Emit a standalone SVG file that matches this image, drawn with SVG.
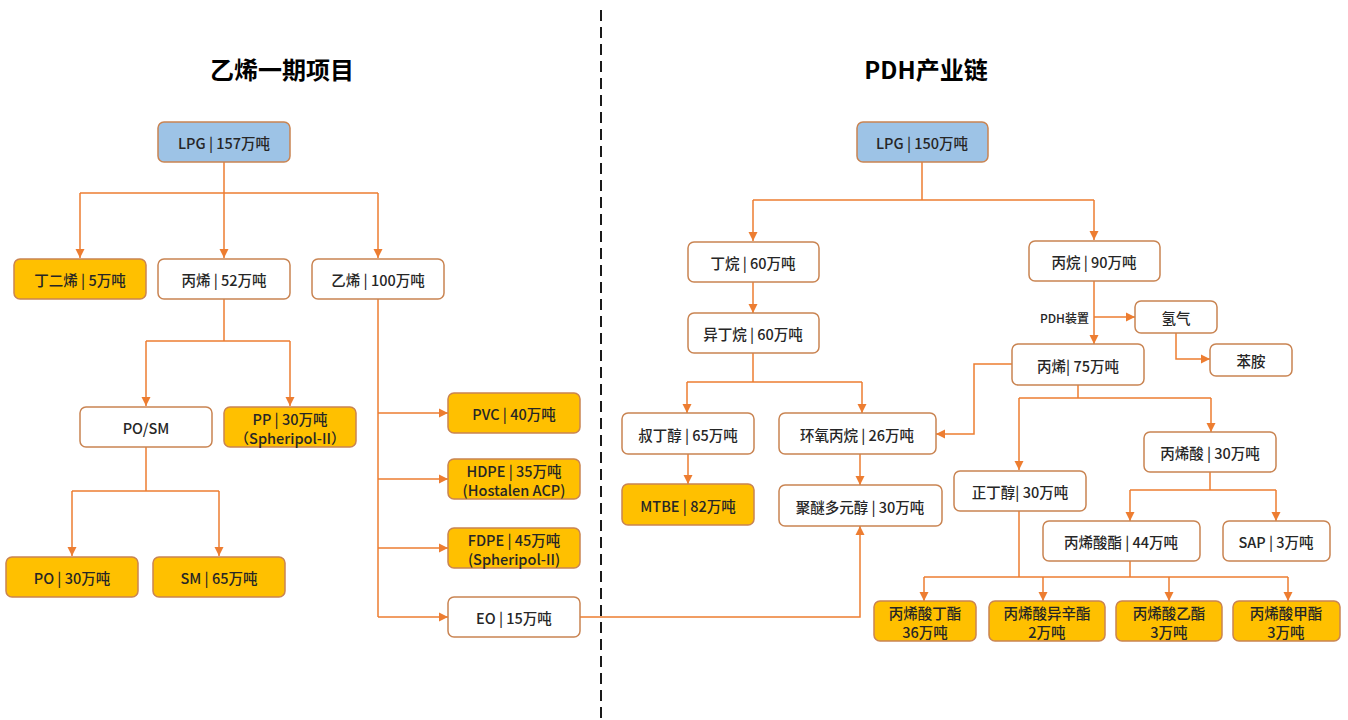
<svg xmlns="http://www.w3.org/2000/svg" width="1348" height="720" viewBox="0 0 1348 720">
<style>
.n rect{stroke:#C98452;stroke-width:1.5}
.w rect{fill:#ffffff}
.o rect{fill:#FFC000}
.b rect{fill:#9DC3E6}
text{font-family:"Noto Sans CJK SC","Liberation Sans",sans-serif;font-size:14.5px;fill:#262626;text-anchor:middle;dominant-baseline:central;font-weight:500}
.t{font-size:24px;font-weight:700;fill:#000}
.lbl{font-size:12px;text-anchor:end}
#conn path{fill:none;stroke:#ED7D31;stroke-width:1.5}
</style>
<defs>
<marker id="ar" markerUnits="userSpaceOnUse" markerWidth="10" markerHeight="10" refX="9" refY="5" orient="auto">
<path d="M0,0.5 L9,5 L0,9.5 z" fill="#ED7D31"/>
</marker>
</defs>
<rect width="1348" height="720" fill="#ffffff"/>
<line x1="601" y1="10" x2="601" y2="720" stroke="#1a1a1a" stroke-width="2" stroke-dasharray="11,6"/>
<text class="t" x="282" y="68">乙烯一期项目</text>
<text class="t" x="926" y="68">PDH产业链</text>

<g id="conn">
<path d="M224,162 V193"/>
<path d="M80,193 H378"/>
<path d="M80,193 V258" marker-end="url(#ar)"/>
<path d="M224,193 V258" marker-end="url(#ar)"/>
<path d="M378,193 V258" marker-end="url(#ar)"/>
<path d="M224,299 V341"/>
<path d="M146,341 H290"/>
<path d="M146,341 V406" marker-end="url(#ar)"/>
<path d="M290,341 V406" marker-end="url(#ar)"/>
<path d="M146,447 V491"/>
<path d="M72,491 H219"/>
<path d="M72,491 V556" marker-end="url(#ar)"/>
<path d="M219,491 V556" marker-end="url(#ar)"/>
<path d="M378,299 V617"/>
<path d="M378,413 H448" marker-end="url(#ar)"/>
<path d="M378,479 H448" marker-end="url(#ar)"/>
<path d="M378,548 H448" marker-end="url(#ar)"/>
<path d="M378,617 H448" marker-end="url(#ar)"/>
<path d="M580,617 H860 V526" marker-end="url(#ar)"/>
<path d="M922,162 V200"/>
<path d="M753,200 H1094"/>
<path d="M753,200 V241" marker-end="url(#ar)"/>
<path d="M1094,200 V240" marker-end="url(#ar)"/>
<path d="M753,282 V313" marker-end="url(#ar)"/>
<path d="M753,353 V382"/>
<path d="M687,382 H862"/>
<path d="M687,382 V413" marker-end="url(#ar)"/>
<path d="M862,382 V413" marker-end="url(#ar)"/>
<path d="M688,454 V484" marker-end="url(#ar)"/>
<path d="M860,454 V485" marker-end="url(#ar)"/>
<path d="M1094,281 V344" marker-end="url(#ar)"/>
<path d="M1094,317 H1135" marker-end="url(#ar)"/>
<path d="M1176,333 V359 H1210" marker-end="url(#ar)"/>
<path d="M1012,364 H974 V434 H936" marker-end="url(#ar)"/>
<path d="M1078,385 V398"/>
<path d="M1019,398 H1211"/>
<path d="M1019,398 V470" marker-end="url(#ar)"/>
<path d="M1211,398 V432" marker-end="url(#ar)"/>
<path d="M1210,472 V490"/>
<path d="M1130,490 H1276"/>
<path d="M1130,490 V521" marker-end="url(#ar)"/>
<path d="M1276,490 V521" marker-end="url(#ar)"/>
<path d="M1019,511 V577"/>
<path d="M1130,561 V577"/>
<path d="M924,577 H1288"/>
<path d="M924,577 V601" marker-end="url(#ar)"/>
<path d="M1043,577 V601" marker-end="url(#ar)"/>
<path d="M1169,577 V601" marker-end="url(#ar)"/>
<path d="M1288,577 V601" marker-end="url(#ar)"/>
</g>
<text class="lbl" x="1089" y="317">PDH装置</text>

<g id="lpg1" class="n b"><rect x="158" y="122" width="132" height="40" rx="6"/><text x="224" y="142">LPG | 157万吨</text></g>
<g id="butadiene" class="n o"><rect x="14" y="259" width="132" height="40" rx="6"/><text x="80" y="279">丁二烯 | 5万吨</text></g>
<g id="propylene1" class="n w"><rect x="158" y="259" width="132" height="40" rx="6"/><text x="224" y="279">丙烯 | 52万吨</text></g>
<g id="ethylene" class="n w"><rect x="312" y="259" width="132" height="40" rx="6"/><text x="378" y="279">乙烯 | 100万吨</text></g>
<g id="posm" class="n w"><rect x="80" y="407" width="132" height="40" rx="6"/><text x="146" y="427">PO/SM</text></g>
<g id="pp" class="n o"><rect x="224" y="407" width="132" height="40" rx="6"/><text x="290" y="418">PP | 30万吨</text><text x="290" y="437">（Spheripol-II）</text></g>
<g id="po" class="n o"><rect x="6" y="557" width="132" height="40" rx="6"/><text x="72" y="577">PO | 30万吨</text></g>
<g id="sm" class="n o"><rect x="153" y="557" width="132" height="40" rx="6"/><text x="219" y="577">SM | 65万吨</text></g>
<g id="pvc" class="n o"><rect x="448" y="393" width="132" height="40" rx="6"/><text x="514" y="413">PVC | 40万吨</text></g>
<g id="hdpe" class="n o"><rect x="448" y="459" width="132" height="40" rx="6"/><text x="514" y="470">HDPE | 35万吨</text><text x="514" y="489">(Hostalen ACP)</text></g>
<g id="fdpe" class="n o"><rect x="448" y="528" width="132" height="40" rx="6"/><text x="514" y="539">FDPE | 45万吨</text><text x="514" y="558">(Spheripol-II)</text></g>
<g id="eo" class="n w"><rect x="448" y="597" width="132" height="40" rx="6"/><text x="514" y="617">EO | 15万吨</text></g>

<g id="lpg2" class="n b"><rect x="857" y="122" width="131" height="40" rx="6"/><text x="922" y="142">LPG | 150万吨</text></g>
<g id="butane" class="n w"><rect x="688" y="242" width="131" height="40" rx="6"/><text x="753" y="262">丁烷 | 60万吨</text></g>
<g id="propane" class="n w"><rect x="1029" y="241" width="131" height="40" rx="6"/><text x="1094" y="261">丙烷 | 90万吨</text></g>
<g id="isobutane" class="n w"><rect x="688" y="313" width="131" height="40" rx="6"/><text x="753" y="333">异丁烷 | 60万吨</text></g>
<g id="tba" class="n w"><rect x="622" y="413" width="132" height="41" rx="6"/><text x="688" y="434">叔丁醇 | 65万吨</text></g>
<g id="propylene-oxide" class="n w"><rect x="779" y="413" width="157" height="41" rx="6"/><text x="857" y="434">环氧丙烷 | 26万吨</text></g>
<g id="mtbe" class="n o"><rect x="622" y="484" width="132" height="41" rx="6"/><text x="688" y="505">MTBE | 82万吨</text></g>
<g id="polyether" class="n w"><rect x="779" y="485" width="163" height="41" rx="6"/><text x="860" y="506">聚醚多元醇 | 30万吨</text></g>
<g id="hydrogen" class="n w"><rect x="1135" y="301" width="82" height="32" rx="6"/><text x="1176" y="317">氢气</text></g>
<g id="aniline" class="n w"><rect x="1210" y="344" width="82" height="32" rx="6"/><text x="1251" y="360">苯胺</text></g>
<g id="propylene2" class="n w"><rect x="1012" y="344" width="132" height="41" rx="6"/><text x="1078" y="365">丙烯| 75万吨</text></g>
<g id="acrylic-acid" class="n w"><rect x="1144" y="432" width="132" height="40" rx="6"/><text x="1210" y="452">丙烯酸 | 30万吨</text></g>
<g id="n-butanol" class="n w"><rect x="954" y="471" width="132" height="40" rx="6"/><text x="1020" y="491">正丁醇| 30万吨</text></g>
<g id="acrylate" class="n w"><rect x="1043" y="521" width="157" height="40" rx="6"/><text x="1121" y="541">丙烯酸酯 | 44万吨</text></g>
<g id="sap" class="n w"><rect x="1223" y="521" width="107" height="40" rx="6"/><text x="1276" y="541">SAP | 3万吨</text></g>
<g id="butyl-acrylate" class="n o"><rect x="874" y="601" width="102" height="40" rx="6"/><text x="925" y="612">丙烯酸丁酯</text><text x="925" y="631">36万吨</text></g>
<g id="octyl-acrylate" class="n o"><rect x="989" y="601" width="116" height="40" rx="6"/><text x="1047" y="612">丙烯酸异辛酯</text><text x="1047" y="631">2万吨</text></g>
<g id="ethyl-acrylate" class="n o"><rect x="1116" y="601" width="106" height="40" rx="6"/><text x="1169" y="612">丙烯酸乙酯</text><text x="1169" y="631">3万吨</text></g>
<g id="methyl-acrylate" class="n o"><rect x="1233" y="601" width="107" height="40" rx="6"/><text x="1286" y="612">丙烯酸甲酯</text><text x="1286" y="631">3万吨</text></g>
</svg>
